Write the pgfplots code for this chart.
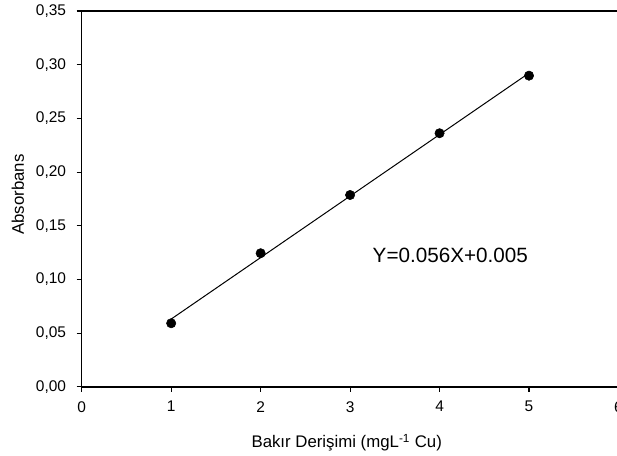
\documentclass[border=0pt]{standalone}
\usepackage{pgfplots}
\pgfplotsset{compat=1.18}
\usepackage{fontspec}
\setmainfont{Liberation Sans}
\begin{document}
\begin{tikzpicture}[x=1pt,y=1pt]
\begin{axis}[
  at={(0,0)}, anchor=south west,
  scale only axis,
  width=402.6pt, height=282pt,
  xmin=0, xmax=6, ymin=0, ymax=0.35,
  xtick={0,1,2,3,4,5,6},
  ytick={0,0.05,0.10,0.15,0.20,0.25,0.30,0.35},
  yticklabels={{0,00},{0,05},{0,10},{0,15},{0,20},{0,25},{0,30},{0,35}},
  tick pos=left,
  tick align=outside,
  major tick length=3.75pt,
  tick style={black, line width=0.8pt},
  axis line style={black, line width=0.9pt},
  /pgf/number format/assume math mode=true,
  tick label style={font=\fontsize{11.6}{13}\selectfont},
  yticklabel style={xshift=-4.5pt},
  xticklabel style={yshift=-3.5pt},
  xlabel={Bakır Derişimi (mgL\textsuperscript{-1} Cu)},
  ylabel={Absorbans},
  label style={font=\fontsize{12.6}{14}\selectfont},
  xlabel style={at={(axis description cs:0.4937,0)}, anchor=base, yshift=-45.75pt},
  ylabel style={at={(axis description cs:0,0.5114)}, anchor=base, yshift=43.3pt},
  clip=false,
]
\addplot[black, line width=0.75pt] coordinates {(1,0.0632) (5,0.2922)};
\addplot[only marks, mark=*, mark size=3.5pt, black] coordinates {
(1,0.0593) (2,0.1245) (3,0.1787) (4,0.2362) (5,0.2898)};
\node[anchor=west, inner sep=0pt, font=\fontsize{15.5}{18}\selectfont] at (axis cs:3.25,0.1224) {Y=0.056X+0.005};
\end{axis}
\pgfresetboundingbox
\path[use as bounding box] (-61.3pt,-51.75pt) rectangle (401.5pt,290.25pt);
\end{tikzpicture}
\end{document}
